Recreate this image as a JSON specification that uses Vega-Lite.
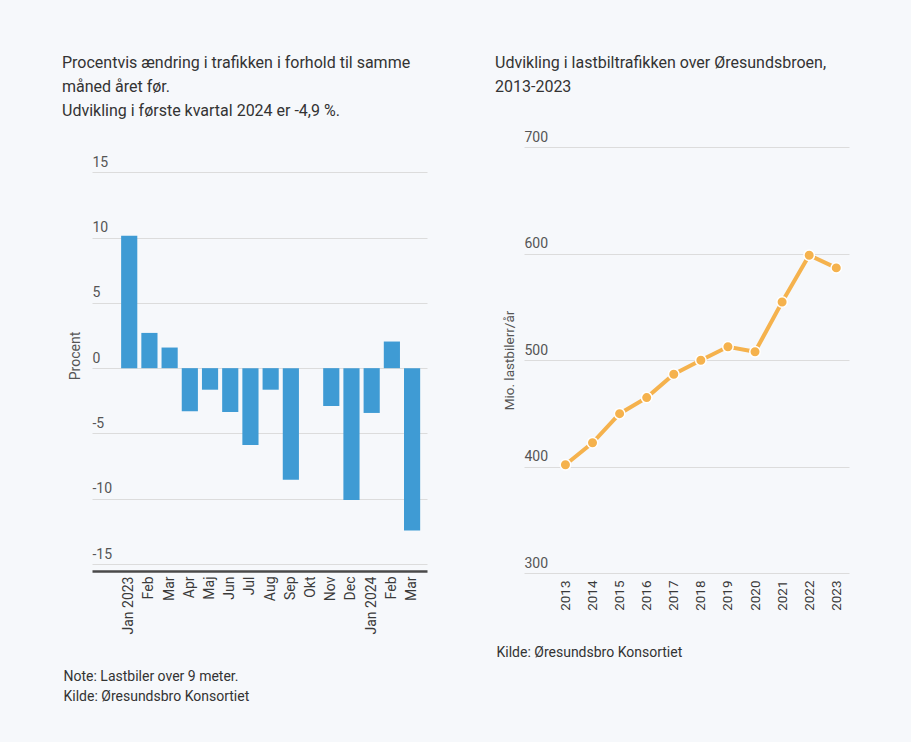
{
  "$schema": "https://vega.github.io/schema/vega-lite/v6.json",
  "background": "#f6f8fb",
  "padding": {"left": 62, "top": 55, "right": 62, "bottom": 40},
  "spacing": 68,
  "config": {
    "font": "Roboto",
    "view": {"stroke": null},
    "axis": {
      "labelFont": "Roboto",
      "labelColor": "#555555",
      "titleFont": "Roboto",
      "titleColor": "#555555",
      "titleFontWeight": "normal",
      "gridColor": "#dcdcdc",
      "gridWidth": 1
    },
    "title": {
      "font": "Roboto",
      "fontSize": 16,
      "fontWeight": "normal",
      "color": "#333333",
      "anchor": "start",
      "frame": "group",
      "lineHeight": 24
    }
  },
  "hconcat": [
    {
      "width": 335,
      "height": 417,
      "title": {
        "text": ["Procentvis ændring i trafikken i forhold til samme", "måned året før.", "Udvikling i første kvartal 2024 er -4,9 %."],
        "dx": -30,
        "offset": 28
      },
      "data": {
        "values": [
          {"month": "Jan 2023", "pct": 10.15},
          {"month": "Feb", "pct": 2.7},
          {"month": "Mar", "pct": 1.58},
          {"month": "Apr", "pct": -3.3},
          {"month": "Maj", "pct": -1.65},
          {"month": "Jun", "pct": -3.36},
          {"month": "Jul", "pct": -5.88},
          {"month": "Aug", "pct": -1.65},
          {"month": "Sep", "pct": -8.55},
          {"month": "Okt", "pct": null},
          {"month": "Nov", "pct": -2.9},
          {"month": "Dec", "pct": -10.1},
          {"month": "Jan 2024", "pct": -3.43},
          {"month": "Feb\u200b", "pct": 2.04},
          {"month": "Mar\u200b", "pct": -12.44}
        ]
      },
      "mark": {"type": "bar", "color": "#3f9bd4"},
      "encoding": {
        "x": {
          "field": "month",
          "type": "ordinal",
          "sort": null,
          "scale": {
            "domain": ["Jan 2023", "Feb", "Mar", "Apr", "Maj", "Jun", "Jul", "Aug", "Sep", "Okt", "Nov", "Dec", "Jan 2024", "Feb\u200b", "Mar\u200b"],
            "paddingInner": 0.2,
            "paddingOuter": 0.89,
            "align": 0.81
          },
          "axis": {
            "title": ["Note: Lastbiler over 9 meter.", "Kilde: Øresundsbro Konsortiet"],
            "titleFontSize": 14,
            "titleColor": "#333333",
            "titleFontWeight": "normal",
            "titleAnchor": "start",
            "titleAlign": "left",
            "titleBaseline": "top",
            "titleLineHeight": 20,
            "titleX": -29,
            "titleY": 98,
            "labelAngle": -90,
            "labelAlign": "right",
            "labelBaseline": "middle",
            "labelFontSize": 14,
            "labelColor": "#3a3a3a",
            "labelPadding": 5,
            "ticks": false,
            "domain": true,
            "domainColor": "#4a4a4a",
            "domainWidth": 2.5,
            "offset": 7,
            "grid": false
          }
        },
        "y": {
          "field": "pct",
          "type": "quantitative",
          "scale": {"domain": [-15, 16.94], "nice": false},
          "axis": {
            "title": "Procent",
            "titleFontSize": 14,
            "titlePadding": 10,
            "values": [-15, -10, -5, 0, 5, 10, 15],
            "labelExpr": "replace(datum.label, '\u2212', '-')",
            "labelAlign": "left",
            "labelBaseline": "bottom",
            "labelPadding": 0,
            "labelOffset": -3,
            "labelFontSize": 14,
            "tickSize": 0,
            "ticks": false,
            "domain": false,
            "grid": true
          }
        }
      }
    },
    {
      "width": 325,
      "height": 426,
      "title": {
        "text": ["Udvikling i lastbiltrafikken over Øresundsbroen,", "2013-2023"],
        "dx": -29,
        "offset": 35
      },
      "data": {
        "values": [
          {"year": "2013", "trucks": 401.6},
          {"year": "2014", "trucks": 422.3},
          {"year": "2015", "trucks": 449.6},
          {"year": "2016", "trucks": 464.7},
          {"year": "2017", "trucks": 486.6},
          {"year": "2018", "trucks": 499.8},
          {"year": "2019", "trucks": 512.4},
          {"year": "2020", "trucks": 507.7},
          {"year": "2021", "trucks": 554.5},
          {"year": "2022", "trucks": 598.4},
          {"year": "2023", "trucks": 586.5}
        ]
      },
      "mark": {
        "type": "line",
        "color": "#f5b24d",
        "strokeWidth": 4,
        "point": {"filled": true, "fill": "#f5b24d", "stroke": "white", "strokeWidth": 1.5, "size": 110, "opacity": 1}
      },
      "encoding": {
        "x": {
          "field": "year",
          "type": "ordinal",
          "scale": {"type": "point", "padding": 1.055, "align": 0.765},
          "axis": {
            "title": "Kilde: Øresundsbro Konsortiet",
            "titleFontSize": 14,
            "titleColor": "#333333",
            "titleFontWeight": "normal",
            "titleAnchor": "start",
            "titleAlign": "left",
            "titleBaseline": "middle",
            "titleX": -28,
            "titleY": 79,
            "labelAngle": -90,
            "labelAlign": "right",
            "labelBaseline": "middle",
            "labelFontSize": 13.5,
            "labelColor": "#3a3a3a",
            "labelPadding": 7,
            "ticks": false,
            "domain": false,
            "grid": false
          }
        },
        "y": {
          "field": "trucks",
          "type": "quantitative",
          "scale": {"domain": [300, 700], "nice": false, "zero": false},
          "axis": {
            "title": "Mio. lastbilerr/år",
            "titleFontSize": 13.5,
            "titlePadding": 8,
            "values": [300, 400, 500, 600, 700],
            "labelAlign": "left",
            "labelBaseline": "bottom",
            "labelPadding": 0,
            "labelOffset": -3,
            "labelFontSize": 14,
            "tickSize": 0,
            "ticks": false,
            "domain": false,
            "grid": true
          }
        }
      }
    }
  ]
}
